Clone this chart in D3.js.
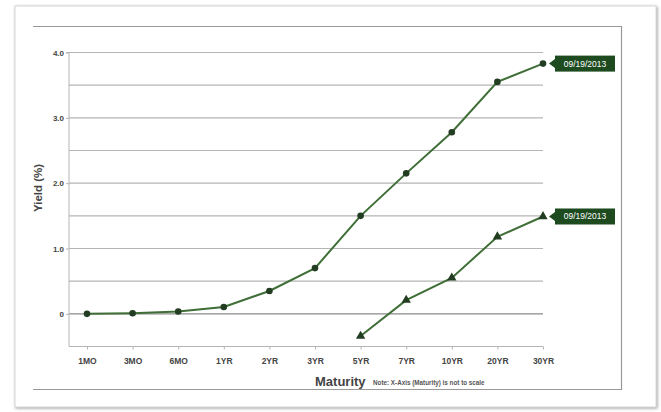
<!DOCTYPE html>
<html><head><meta charset="utf-8">
<script src="https://cdn.jsdelivr.net/npm/d3@7"></script>
<style>body{margin:0;background:#fff}svg{display:block;font-family:"Liberation Sans",Arial,sans-serif}</style>
</head><body>
<svg id="c" width="661" height="412"></svg>
<script>
const maturities = ["1MO","3MO","6MO","1YR","2YR","3YR","5YR","7YR","10YR","20YR","30YR"];
const nominalYields = [0.00,0.01,0.035,0.105,0.35,0.70,1.50,2.15,2.78,3.55,3.83];
const realMaturities = ["5YR","7YR","10YR","20YR","30YR"];
const realYields = [-0.34,0.21,0.55,1.18,1.49];
const yTickValues = [0,1,2,3,4];
const yTickLabels = ["0","1.0","2.0","3.0","4.0"];
const gridValues = [-0.5,0,0.5,1,1.5,2,2.5,3,3.5,4];
const seriesLabel = "09/19/2013";

const svg = d3.select("#c");
const defs = svg.append("defs");
const f = defs.append("filter").attr("id","sh").attr("x","-5%").attr("y","-5%").attr("width","110%").attr("height","110%");
f.append("feDropShadow").attr("dx",1).attr("dy",1).attr("stdDeviation",1.5).attr("flood-color","#888").attr("flood-opacity",0.8);
svg.append("rect").attr("x",15).attr("y",6).attr("width",641).attr("height",401).attr("fill","#fff").attr("stroke","#d8d8d8").attr("stroke-width",1).attr("filter","url(#sh)");

const ib = svg.append("g").attr("stroke","#999").attr("fill","none").attr("stroke-width",1.2);
ib.append("path").attr("d","M33,26.5H621.5V389.5H33");

const x = d3.scalePoint().domain(maturities).range([87,543]);
const y = d3.scaleLinear().domain([-0.5,4]).range([346.5,52.5]);
const x0 = 69, x1 = 543;

svg.append("g").selectAll("line").data(gridValues).join("line")
  .attr("x1",x0).attr("x2",x1).attr("y1",d=>y(d)).attr("y2",d=>y(d))
  .attr("stroke",d=>d===0?"#8a8a8a":"#b5b5b5").attr("stroke-width",1.1);

const yAxis = d3.axisLeft(y).tickValues(yTickValues).tickSize(3).tickPadding(2)
  .tickFormat((d,i)=>yTickLabels[i]);
const ga = svg.append("g").attr("transform",`translate(${x0},0)`).call(yAxis);
ga.select(".domain").attr("stroke","#b5b5b5").attr("d",`M-3,${y(4)}H0V${y(-0.5)}`);
ga.selectAll(".tick line").attr("stroke","#b5b5b5");
ga.selectAll("text").attr("font-size",8).attr("font-weight","bold").attr("fill","#444");

const xAxis = d3.axisBottom(x).tickSize(3).tickPadding(8);
const gx = svg.append("g").attr("transform",`translate(0,${y(-0.5)})`).call(xAxis);
gx.select(".domain").attr("stroke","#b5b5b5").attr("d",`M${x0},0H${x1}`);
gx.selectAll(".tick line").attr("stroke","#b5b5b5");
gx.selectAll("text").attr("font-size",8.5).attr("font-weight","bold").attr("fill","#444");

svg.append("text").attr("transform","translate(42,188) rotate(-90)").attr("text-anchor","middle")
  .attr("font-size",11.5).attr("font-weight","bold").attr("fill","#444").text("Yield (%)");
svg.append("text").attr("x",315).attr("y",386).attr("font-size",13).attr("font-weight","bold").attr("fill","#444").text("Maturity");
svg.append("text").attr("x",373).attr("y",385).attr("font-size",6.3).attr("font-weight","bold").attr("fill","#555").text("Note: X-Axis (Maturity) is not to scale");

const lineColor = "#3f6e37", markColor = "#223d22", labelBg = "#1d4a1f";
const line = d3.line().x(d=>x(d[0])).y(d=>y(d[1]));

const nom = maturities.map((m,i)=>[m,nominalYields[i]]);
const real = realMaturities.map((m,i)=>[m,realYields[i]]);

svg.append("path").datum(nom).attr("d",line).attr("fill","none").attr("stroke",lineColor).attr("stroke-width",2);
svg.append("g").selectAll("circle").data(nom).join("circle")
  .attr("cx",d=>x(d[0])).attr("cy",d=>y(d[1])).attr("r",3.3).attr("fill",markColor);

svg.append("path").datum(real).attr("d",line).attr("fill","none").attr("stroke",lineColor).attr("stroke-width",2);
const tri = d3.symbol().type(d3.symbolTriangle).size(38);
svg.append("g").selectAll("path").data(real).join("path")
  .attr("transform",d=>`translate(${x(d[0])},${y(d[1])})`).attr("d",tri).attr("fill",markColor);

function endLabel(pt){
  const px = x(pt[0]), py = y(pt[1]);
  const g = svg.append("g").attr("transform",`translate(${px+12},${py})`);
  g.append("path").attr("d","M-6,0L0,-4.5V4.5Z").attr("fill",labelBg);
  g.append("rect").attr("x",0).attr("y",-8).attr("width",60).attr("height",16).attr("fill",labelBg);
  g.append("text").attr("x",30).attr("y",3).attr("text-anchor","middle").attr("font-size",8.5).attr("fill","#fff").text(seriesLabel);
}
endLabel(nom[nom.length-1]);
endLabel(real[real.length-1]);
</script>
</body></html>
